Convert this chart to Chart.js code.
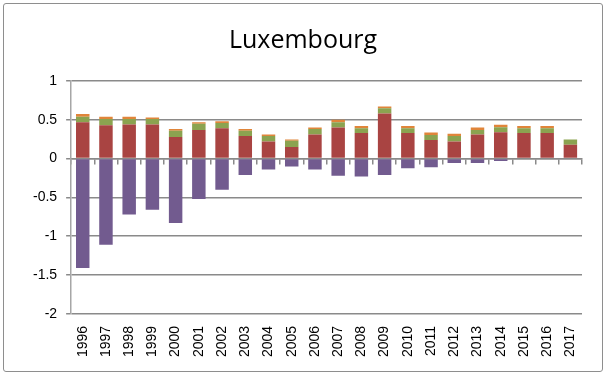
<!DOCTYPE html>
<html>
<head>
<meta charset="utf-8">
<script src="https://cdn.jsdelivr.net/npm/chart.js@4/dist/chart.umd.min.js"></script>
<style>
  html, body { margin: 0; padding: 0; background: #fff; }
  #wrap { position: relative; width: 607px; height: 376px; }
  #frame {
    position: absolute; left: 3px; top: 3px; width: 598px; height: 367px;
    border: 1px solid #8e8e8e; border-radius: 3px; pointer-events: none;
  }
</style>
</head>
<body>
<div id="wrap">
  <canvas id="chart" width="607" height="376"></canvas>
  <div id="frame"></div>
</div>
<script>
const years = ['1996', '1997', '1998', '1999', '2000', '2001', '2002', '2003', '2004', '2005', '2006',
  '2007', '2008', '2009', '2010', '2011', '2012', '2013', '2014', '2015', '2016', '2017']
const redPart = [0.47, 0.43, 0.44, 0.44, 0.28, 0.37, 0.39, 0.29, 0.22, 0.15, 0.31,
  0.40, 0.33, 0.58, 0.33, 0.24, 0.22, 0.31, 0.34, 0.33, 0.33, 0.18]
const greenPart = [0.07, 0.08, 0.07, 0.07, 0.08, 0.08, 0.07, 0.07, 0.07, 0.08, 0.07,
  0.07, 0.06, 0.07, 0.06, 0.065, 0.07, 0.06, 0.065, 0.06, 0.06, 0.065]
const orangePart = [0.035, 0.03, 0.03, 0.02, 0.02, 0.02, 0.02, 0.02, 0.02, 0.017, 0.02,
  0.03, 0.03, 0.02, 0.03, 0.03, 0.03, 0.03, 0.03, 0.03, 0.03, 0]
const purplePart = [-1.41, -1.11, -0.72, -0.66, -0.83, -0.52, -0.40, -0.21, -0.14, -0.10, -0.14,
  -0.22, -0.23, -0.21, -0.125, -0.11, -0.055, -0.055, -0.03, 0, 0, 0]
const yMin = -2
const yMax = 1
const yStep = 0.5

const gridColor = '#8a8a8a'
const tickFont = { family: 'Liberation Sans', size: 14 }

function bars(label, data, color) {
  return {
    label: label,
    data: data,
    backgroundColor: color,
    borderWidth: 0,
    barPercentage: 0.58,
    categoryPercentage: 1,
    stack: 'all',
  }
}

new Chart(document.getElementById('chart'), {
  type: 'bar',
  data: {
    labels: years,
    datasets: [
      bars('A', redPart, '#a94442'),
      bars('B', greenPart, '#8ba350'),
      bars('C', orangePart, '#e0853a'),
      bars('D', purplePart, '#725b8f'),
    ],
  },
  options: {
    responsive: false,
    animation: false,
    layout: { padding: { left: 24, right: 25, top: 0, bottom: 15 } },
    plugins: {
      legend: { display: false },
      tooltip: { enabled: false },
      title: {
        display: true,
        text: 'Luxembourg',
        color: '#000',
        font: { family: 'Open Sans', size: 25, weight: 'normal' },
        padding: { top: 26, bottom: 25 },
      },
    },
    scales: {
      x: {
        stacked: true,
        grid: { display: false },
        border: { display: false },
        ticks: {
          color: '#000',
          font: tickFont,
          maxRotation: 90,
          minRotation: 90,
          autoSkip: false,
          padding: 4,
        },
      },
      // axis line through zero with the small category tick marks
      zero: {
        axis: 'x',
        type: 'category',
        labels: years,
        position: { y: 0 },
        offset: true,
        grid: { drawOnChartArea: false, tickLength: 5, color: gridColor, lineWidth: 1.5, offset: true },
        border: { display: true, color: gridColor, width: 1.5 },
        ticks: { display: false },
      },
      y: {
        stacked: true,
        min: yMin,
        max: yMax,
        grid: { color: gridColor, lineWidth: 1.5, tickLength: 5 },
        border: { display: true, color: '#a6a6a6', width: 1.5 },
        ticks: {
          stepSize: yStep,
          color: '#000',
          font: tickFont,
          padding: 9,
          callback: (v) => String(v),
        },
      },
    },
  },
})
</script>
</body>
</html>
